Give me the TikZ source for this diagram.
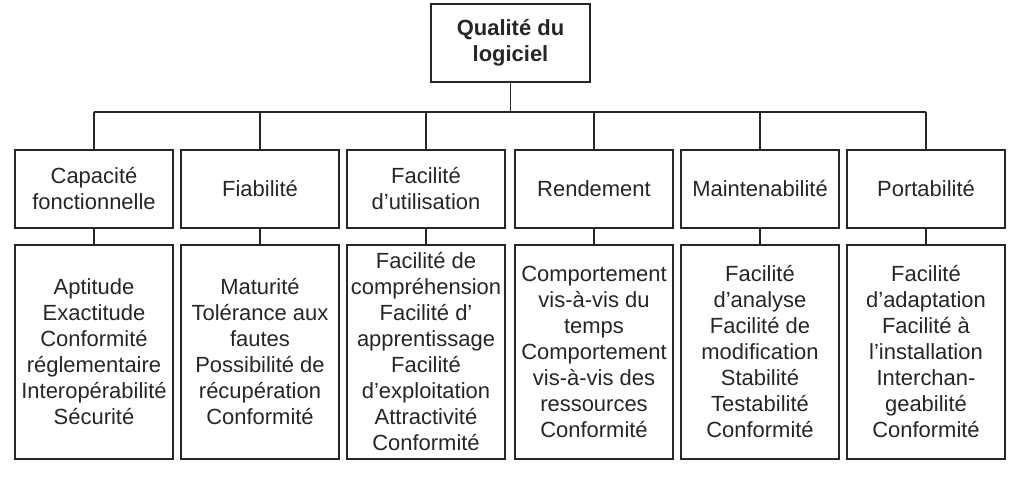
\documentclass[tikz,border=0pt]{standalone}
\usepackage{fontspec}
\setmainfont{Liberation Sans}
\begin{document}
\begin{tikzpicture}[x=0.02cm,y=-0.02cm,
    every node/.style={font=\fontsize{12.5}{14.8}\selectfont,text=black!85},
    box/.style={draw=black!85,line width=0.8pt,align=center,inner sep=2pt,minimum width=3.16cm},
    topbox/.style={box,minimum width=3.18cm,minimum height=1.56cm,font=\fontsize{12.5}{14.8}\selectfont\bfseries},
    catbox/.style={box,minimum height=1.56cm},
    subbox/.style={box,minimum height=4.28cm},
    link/.style={draw=black!85,line width=0.8pt}]
  \useasboundingbox (0,0) rectangle (1024,482);
  \node[topbox] (top) at (510.5,43) {Qualité du\\logiciel};
  \coordinate (bus) at (510.5,112);
  \node[catbox] (cat1) at (94,189) {Capacité\\fonctionnelle};
  \node[catbox] (cat2) at (260,189) {Fiabilité};
  \node[catbox] (cat3) at (426,189) {Facilité\\d’utilisation};
  \node[catbox] (cat4) at (594,189) {Rendement};
  \node[catbox] (cat5) at (760,189) {Maintenabilité};
  \node[catbox] (cat6) at (926,189) {Portabilité};
  \node[subbox] (sub1) at (94,352) {Aptitude\\Exactitude\\Conformité\\réglementaire\\Interopérabilité\\Sécurité};
  \node[subbox] (sub2) at (260,352) {Maturité\\Tolérance aux\\fautes\\Possibilité de\\récupération\\Conformité};
  \node[subbox] (sub3) at (426,352) {Facilité de\\compréhension\\Facilité d’\\apprentissage\\Facilité\\d’exploitation\\Attractivité\\Conformité};
  \node[subbox] (sub4) at (594,352) {Comportement\\vis-à-vis du\\temps\\Comportement\\vis-à-vis des\\ressources\\Conformité};
  \node[subbox] (sub5) at (760,352) {Facilité\\d’analyse\\Facilité de\\modification\\Stabilité\\Testabilité\\Conformité};
  \node[subbox] (sub6) at (926,352) {Facilité\\d’adaptation\\Facilité à\\l’installation\\Interchan-\\geabilité\\Conformité};
  \begin{scope}[link]
    \draw (top.south) -- (bus);
    \draw (bus -| cat1.north) -- (bus -| cat6.north);
    \draw (bus -| cat1.north) -- (cat1.north);
    \draw (bus -| cat2.north) -- (cat2.north);
    \draw (bus -| cat3.north) -- (cat3.north);
    \draw (bus -| cat4.north) -- (cat4.north);
    \draw (bus -| cat5.north) -- (cat5.north);
    \draw (bus -| cat6.north) -- (cat6.north);
    \draw (cat1.south) -- (sub1.north);
    \draw (cat2.south) -- (sub2.north);
    \draw (cat3.south) -- (sub3.north);
    \draw (cat4.south) -- (sub4.north);
    \draw (cat5.south) -- (sub5.north);
    \draw (cat6.south) -- (sub6.north);
  \end{scope}
\end{tikzpicture}
\end{document}
